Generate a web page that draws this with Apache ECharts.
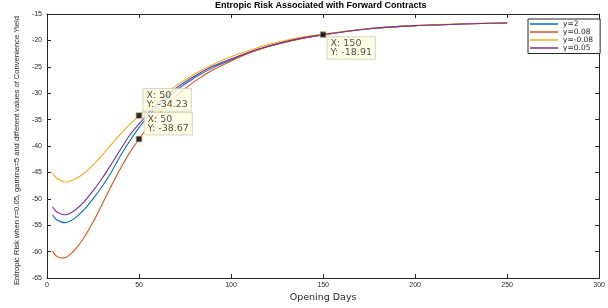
<!DOCTYPE html>
<html>
<head>
<meta charset="utf-8">
<script src="https://cdn.jsdelivr.net/npm/echarts@6/dist/echarts.min.js"></script>
<style>html,body{margin:0;padding:0;background:#fff;}#c{width:608px;height:308px;}</style>
</head>
<body>
<div id="c"></div>
<script>
var days = [3,5,8,10,12,15,20,25,30,35,40,45,50,55,60,70,80,90,100,110,120,135,150,175,200,225,250];
var seriesNames = ['y=2','y=0.08','y=-0.08','y=0.05'];
var valsY2 =   [-53.0,-53.9,-54.4,-54.5,-54.3,-53.7,-52.1,-50.0,-47.6,-44.9,-41.8,-39.0,-36.5,-34.4,-32.5,-29.5,-27.1,-25.2,-23.7,-22.3,-21.15,-19.85,-18.92,-17.8,-17.2,-16.9,-16.7];
var valsY008 = [-59.9,-60.8,-61.2,-61.1,-60.7,-59.7,-57.4,-54.4,-51.0,-47.5,-44.2,-41.2,-38.67,-36.3,-34.2,-30.6,-27.8,-25.6,-23.9,-22.4,-21.2,-19.9,-18.95,-17.8,-17.2,-16.9,-16.7];
var valsYm008 = [-45.0,-46.0,-46.6,-46.8,-46.7,-46.3,-45.2,-43.6,-41.7,-39.7,-37.7,-35.9,-34.23,-32.7,-31.2,-28.6,-26.4,-24.6,-23.1,-21.9,-20.8,-19.6,-18.8,-17.75,-17.15,-16.85,-16.7];
var valsY005 = [-51.5,-52.4,-52.9,-53.0,-52.8,-52.2,-50.6,-48.5,-46.1,-43.4,-40.6,-37.9,-35.8,-33.8,-32.0,-29.1,-26.8,-24.9,-23.5,-22.2,-21.1,-19.8,-18.9,-17.8,-17.2,-16.9,-16.7];
var tipPoints = [[50,-34.23],[50,-38.67],[150,-18.91]];
var xTicks = {min:0, max:300, interval:50};
var yTicks = {min:-65, max:-15, interval:5};

var colors = ['#0072BD','#D95319','#EDB120','#7E2F8E'];
var allVals = [valsY2, valsY008, valsYm008, valsY005];
var axisColor = '#262626';

function pairs(v){ return days.map(function(d,i){ return [d, v[i]]; }); }

var lineSeries = seriesNames.map(function(n, i){
  return {
    name: n, type: 'line', data: pairs(allVals[i]), xAxisIndex: 0, yAxisIndex: 0,
    symbol: 'none', smooth: 0.3, lineStyle: {color: colors[i], width: 1.1}, itemStyle:{color: colors[i]},
    z: 2
  };
});

var tipOffsets = [[8,-23],[9,-22.5],[8,6]];
var tipSeries = {
  type: 'scatter', name: 'tips', xAxisIndex: 0, yAxisIndex: 0, z: 5,
  symbol: 'rect', symbolSize: 6,
  itemStyle: {color: '#000', borderColor: '#c8c49a', borderWidth: 1},
  data: tipPoints.map(function(p, i){
    return {
      value: p,
      label: {
        show: true,
        position: tipOffsets[i],
        formatter: 'X: ' + p[0] + '\nY: ' + p[1].toFixed(2),
        fontFamily: 'DejaVu Sans', fontSize: 9.5, lineHeight: 8.8, color: '#1a1a1a',
        backgroundColor: '#FFFFE1', borderColor: '#cfcfb8', borderWidth: 1,
        padding: [2,3,2,3], align: 'left', verticalAlign: 'top'
      }
    };
  }),
  emphasis: {disabled: true}
};

function xAxisBase(pos, showLabel){
  return {
    type: 'value', position: pos, min: xTicks.min, max: xTicks.max, interval: xTicks.interval,
    axisLine: {show: true, onZero: false, lineStyle: {color: axisColor, width: 1}},
    axisTick: {show: true, inside: true, length: 4, lineStyle: {color: axisColor}},
    axisLabel: {show: showLabel, fontFamily: 'Liberation Sans', fontSize: 7, color: axisColor, margin: 3},
    splitLine: {show: false}
  };
}
function yAxisBase(pos, showLabel){
  return {
    type: 'value', position: pos, min: yTicks.min, max: yTicks.max, interval: yTicks.interval,
    axisLine: {show: true, onZero: false, lineStyle: {color: axisColor, width: 1}},
    axisTick: {show: true, inside: true, length: 4, lineStyle: {color: axisColor}},
    axisLabel: {show: showLabel, fontFamily: 'Liberation Sans', fontSize: 7, color: axisColor, margin: 5},
    splitLine: {show: false}
  };
}

var xa = xAxisBase('bottom', true);
xa.name = 'Opening Days'; xa.nameLocation = 'middle'; xa.nameGap = 12;
xa.nameTextStyle = {fontFamily: 'DejaVu Sans', fontSize: 9.5, color: axisColor};
var ya = yAxisBase('left', true);
ya.name = 'Entropic Risk when r=0.05, gamma=5 and different values of Convenience Yield';
ya.nameLocation = 'middle'; ya.nameGap = 26;
ya.nameTextStyle = {fontFamily: 'Liberation Sans', fontSize: 7.6, color: axisColor, padding: [0,9,0,0]};

var option = {
  animation: false,
  backgroundColor: '#fff',
  title: {
    text: 'Entropic Risk Associated with Forward Contracts',
    left: 215, top: 1, padding: 0,
    textStyle: {fontFamily: 'Liberation Sans', fontWeight: 'bold', fontSize: 9, color: '#000'}
  },
  grid: {left: 47, right: 2, top: 14, bottom: 24, containLabel: false},
  legend: {
    data: seriesNames, orient: 'vertical', left: 528, top: 19,
    icon: 'rect', itemWidth: 28, itemHeight: 1.5, itemGap: 0,
    padding: [1,7,1.5,2], borderColor: axisColor, borderWidth: 1, backgroundColor: '#fff',
    textStyle: {fontFamily: 'DejaVu Sans', fontSize: 7.5, lineHeight: 7.5, color: axisColor},
    selectedMode: false
  },
  xAxis: [xa, xAxisBase('top', false)],
  yAxis: [ya, yAxisBase('right', false)],
  series: lineSeries.concat([tipSeries])
};

var chart = echarts.init(document.getElementById('c'), null, {renderer: 'canvas'});
chart.setOption(option);
</script>
</body>
</html>
